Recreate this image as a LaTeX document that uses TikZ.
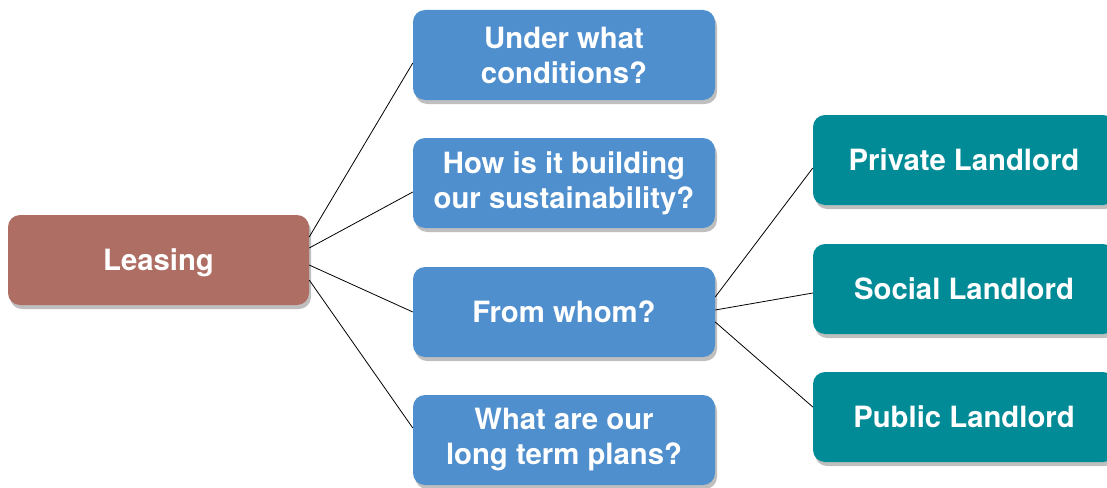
\documentclass[tikz,border=0pt]{standalone}
\usepackage{fontspec}
\setmainfont{TeX Gyre Heros}
\usetikzlibrary{shadows}
\definecolor{leasecol}{HTML}{AE6E64}
\definecolor{qcol}{HTML}{4F8FCD}
\definecolor{lordcol}{HTML}{008B96}
\tikzset{
  box/.style={rectangle, rounded corners=12pt, minimum width=302pt, minimum height=90pt,
    text=white, align=center, inner sep=0pt,
    font=\fontsize{29.3}{35}\selectfont\bfseries,
    drop shadow={shadow xshift=2pt, shadow yshift=-4pt, opacity=0.25, fill=black}},
  leasebox/.style={box, fill=leasecol, minimum width=301pt, text depth=0pt},
  qbox/.style={box, fill=qcol},
  lordbox/.style={box, fill=lordcol},
  link/.style={draw=black, line width=0.8pt}
}
\begin{document}
\begin{tikzpicture}[x=1pt, y=-1pt]
\useasboundingbox[fill=white] (0,0) rectangle (1107,487);
\node[leasebox] (lease) at (158.5,260) {Leasing};
\node[qbox] (q1) at (564,55) {Under what\\conditions?};
\node[qbox] (q2) at (564,183) {How is it building\\our sustainability?};
\node[qbox] (q3) at (564,312) {From whom?};
\node[qbox] (q4) at (564,440) {What are our\\long term plans?};
\node[lordbox] (p1) at (964,160) {Private Landlord};
\node[lordbox] (p2) at (964,289) {Social Landlord};
\node[lordbox] (p3) at (964,417) {Public Landlord};
\draw[link] ([yshift=23pt]lease.east) -- ([yshift=-8pt]q1.west);
\draw[link] ([yshift=12pt]lease.east) -- ([yshift=-9pt]q2.west);
\draw[link] ([yshift=-5pt]lease.east) -- (q3.west);
\draw[link] ([yshift=-20pt]lease.east) -- ([yshift=12pt]q4.west);
\draw[link] ([yshift=15pt]q3.east) -- ([yshift=-8pt]p1.west);
\draw[link] ([yshift=2pt]q3.east) -- ([yshift=-4pt]p2.west);
\draw[link] ([yshift=-10pt]q3.east) -- ([yshift=10pt]p3.west);
\end{tikzpicture}
\end{document}
